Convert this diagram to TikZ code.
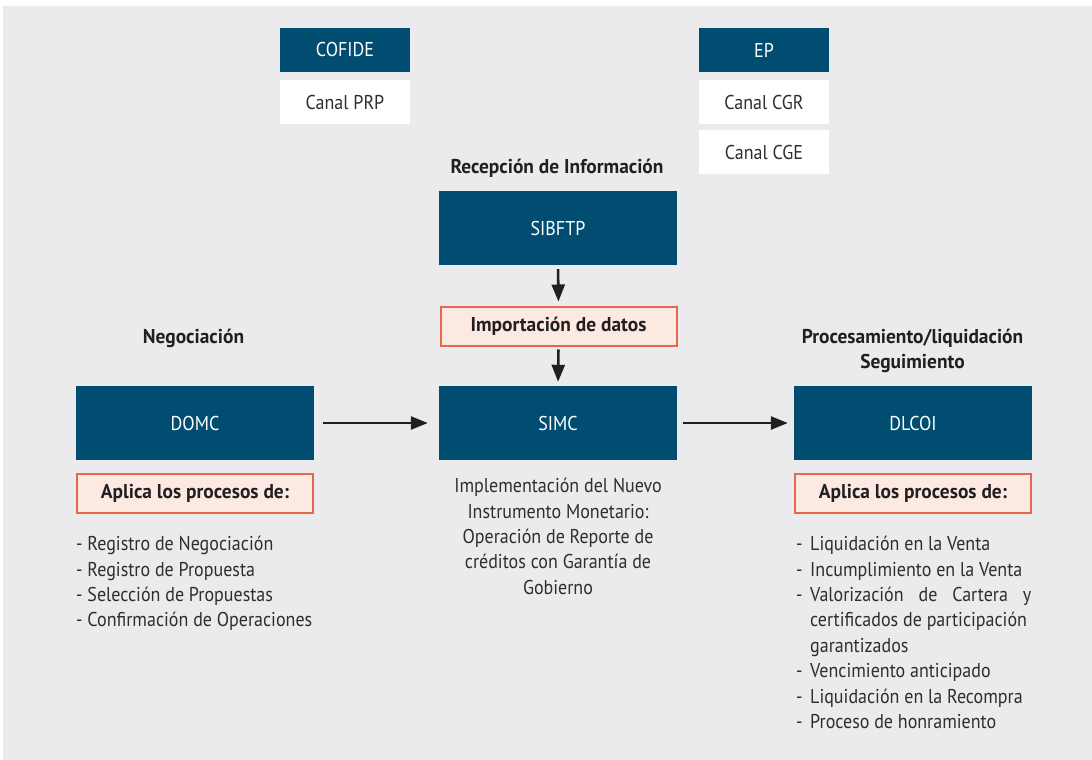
\documentclass[tikz,border=0pt]{standalone}
\usepackage{fontspec}
\setmainfont{PT Sans}[FakeStretch=0.9]
\newfontfamily\headf{PT Sans}[FakeStretch=0.97]
\usetikzlibrary{arrows.meta}
\definecolor{bgc}{HTML}{EBEBED}
\definecolor{navy}{HTML}{004D71}
\definecolor{txt}{HTML}{2E2E30}
\definecolor{headc}{HTML}{231F20}
\definecolor{salmon}{HTML}{FBE9E2}
\definecolor{orng}{HTML}{E2694D}
\definecolor{arrc}{HTML}{231F20}
\tikzset{
  bluebox/.style={fill=navy, text=white, inner sep=0pt, font=\fontsize{20}{24}\selectfont},
  whitebox/.style={fill=white, text=txt, inner sep=0pt, font=\fontsize{20}{24}\selectfont},
  hlbox/.style={fill=salmon, draw=orng, line width=2pt, text=headc, inner sep=0pt, minimum width=236pt, minimum height=39pt, font=\headf\bfseries\fontsize{20}{24}\selectfont},
  heading/.style={text=headc, inner sep=0pt, align=center, font=\headf\bfseries\fontsize{20}{25}\selectfont},
  plain/.style={text=txt, inner sep=0pt, font=\fontsize{20}{25.4}\selectfont},
  arr/.style={draw=arrc, line width=2.6pt, -{Triangle[length=17pt,width=13pt]}}
}
\begin{document}
\begin{tikzpicture}[x=1pt,y=-1pt]
\fill[white] (0,0) rectangle (1092,760);
\fill[bgc] (3,6) rectangle (1092,760);
\useasboundingbox (0,0) rectangle (1092,760);
% top boxes
\node[bluebox, minimum width=130pt, minimum height=44pt] (cofide) at (345,50) {COFIDE};
\node[whitebox, minimum width=130pt, minimum height=44pt] (prp) at (345,102) {Canal PRP};
\node[bluebox, minimum width=130pt, minimum height=44pt] (ep) at (764,50) {EP};
\node[whitebox, minimum width=130pt, minimum height=44pt] (cgr) at (764,102) {Canal CGR};
\node[whitebox, minimum width=130pt, minimum height=44pt] (cge) at (764,152) {Canal CGE};
% center column
\node[heading, anchor=base] (rec) at (557,173) {Recepción de Información};
\node[bluebox, minimum width=238pt, minimum height=74pt] (sibftp) at (558,228) {SIBFTP};
\node[hlbox] (imp) at (558.5,326) {Importación de datos};
\node[bluebox, minimum width=238pt, minimum height=74pt] (simc) at (558,423) {SIMC};
\node[bluebox, minimum width=238pt, minimum height=74pt] (domc) at (195,423) {DOMC};
\node[bluebox, minimum width=238pt, minimum height=74pt] (dlcoi) at (913,423) {DLCOI};
\node[heading, anchor=base] (neg) at (193.5,343) {Negociación};
\node[heading, anchor=base] (proc) at (912.5,343) {Procesamiento/liquidación};
\node[heading, anchor=base] (seg) at (912.5,368) {Seguimiento};
\node[hlbox] (apl) at (195,493.5) {Aplica los procesos de:};
\node[hlbox] (apr) at (913,493.5) {Aplica los procesos de:};
% arrows
\draw[arr, shorten <=4pt, shorten >=4pt] (sibftp.south) -- (imp.north);
\draw[arr, shorten <=3pt, shorten >=4pt] (imp.south) -- (simc.north);
\draw[arr, shorten <=9pt, shorten >=11pt] (domc.east) -- (simc.west);
\draw[arr, shorten <=6pt, shorten >=6pt] (simc.east) -- (dlcoi.west);
% texts
\node[plain, align=center, anchor=north] (impl) at (558,478) {Implementación del Nuevo\\Instrumento Monetario:\\Operación de Reporte de\\créditos con Garantía de\\Gobierno};
\node[plain, align=left, anchor=north west] (listl) at (76,536) {- Registro de Negociación\\- Registro de Propuesta\\- Selección de Propuestas\\- Confirmación de Operaciones};
\node[plain, align=left, anchor=north west] (listr) at (796,536) {%
\makebox[14pt][l]{-}Liquidación en la Venta\\
\makebox[14pt][l]{-}Incumplimiento en la Venta\\
\makebox[14pt][l]{-}\makebox[221pt][s]{Valorización de Cartera y}\\
\hspace*{14pt}certificados de participación\\
\hspace*{14pt}garantizados\\
\makebox[14pt][l]{-}Vencimiento anticipado\\
\makebox[14pt][l]{-}Liquidación en la Recompra\\
\makebox[14pt][l]{-}Proceso de honramiento};
\end{tikzpicture}
\end{document}
